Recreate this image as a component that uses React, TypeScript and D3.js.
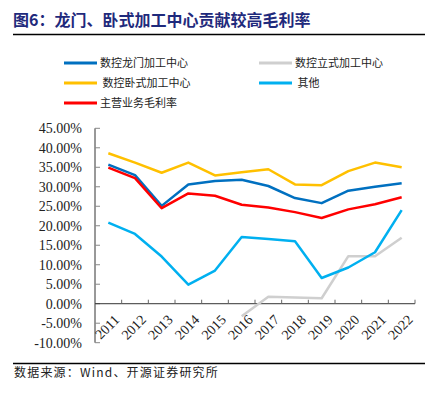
import React, { useEffect, useRef } from 'react';
import * as d3 from 'd3';

// 年份
const years = ['2011', '2012', '2013', '2014', '2015', '2016', '2017', '2018', '2019', '2020', '2021', '2022'];

// 各业务毛利率 (%)
const longmen = [35.7, 33.0, 25.1, 30.6, 31.5, 31.8, 30.2, 27.1, 25.8, 29.0, 30.0, 30.9];
const lishi = [null, null, null, null, null, -3.2, 1.8, 1.6, 1.4, 12.2, 12.2, 16.9];
const woshi = [38.6, 36.2, 33.6, 36.2, 32.9, 33.7, 34.5, 30.6, 30.4, 34.0, 36.2, 35.0];
const qita = [20.8, 17.9, 12.1, 4.9, 8.5, 17.1, 16.6, 16.0, 6.6, 9.3, 13.2, 24.0];
const zhuying = [34.9, 32.2, 24.5, 28.3, 27.7, 25.4, 24.7, 23.5, 22.0, 24.2, 25.5, 27.3];

const yTicks = [45, 40, 35, 30, 25, 20, 15, 10, 5, 0, -5, -10];

const series = [
  { name: '数控龙门加工中心', values: longmen, color: '#0070C0' },
  { name: '数控立式加工中心', values: lishi, color: '#CFCFCF' },
  { name: ' 数控卧式加工中心', values: woshi, color: '#FFC000' },
  { name: ' 其他', values: qita, color: '#00B0F0' },
  { name: '主营业务毛利率', values: zhuying, color: '#FF0000' },
];

const App = () => {
  const svgRef = useRef(null);

  useEffect(() => {
    const width = 437;
    const height = 397;
    const cjk = '"Noto Sans CJK SC", sans-serif';
    const serif = '"Liberation Serif", "Times New Roman", serif';

    const svg = d3.select(svgRef.current)
      .attr('width', width)
      .attr('height', height);
    svg.selectAll('*').remove();

    // 标题
    svg.append('text')
      .attr('x', 13)
      .attr('y', 25.5)
      .attr('font-family', cjk)
      .attr('font-weight', 'bold')
      .attr('font-size', 16)
      .attr('fill', '#1F2A7C')
      .text('图6：龙门、卧式加工中心贡献较高毛利率');

    svg.append('line')
      .attr('x1', 13).attr('x2', 425)
      .attr('y1', 34.5).attr('y2', 34.5)
      .attr('stroke', '#000').attr('stroke-width', 1.3);

    // 图例
    const legendPos = [[64, 63], [259, 63], [64, 83], [259, 83], [64, 103]];
    const lg = svg.selectAll('.legend')
      .data(series)
      .join('g')
      .attr('class', 'legend')
      .attr('transform', (d, i) => `translate(${legendPos[i][0]},${legendPos[i][1]})`);
    lg.append('line')
      .attr('x1', 0).attr('x2', 33)
      .attr('stroke', d => d.color)
      .attr('stroke-width', 3);
    lg.append('text')
      .attr('x', 36)
      .attr('dy', '0.35em')
      .attr('font-family', cjk)
      .attr('font-size', 11)
      .attr('fill', '#222')
      .style('white-space', 'pre')
      .text(d => d.name);

    // 坐标
    const x = d3.scaleBand().domain(years).range([95, 415]);
    const y = d3.scaleLinear().domain([-10, 45]).range([342.7, 128.3]);

    // y 轴
    svg.append('line')
      .attr('x1', 95).attr('x2', 95)
      .attr('y1', y(45)).attr('y2', y(-10))
      .attr('stroke', '#333');
    svg.selectAll('.ytick')
      .data(yTicks)
      .join('line')
      .attr('class', 'ytick')
      .attr('x1', 95).attr('x2', 100)
      .attr('y1', d => y(d)).attr('y2', d => y(d))
      .attr('stroke', '#888');
    svg.selectAll('.ylabel')
      .data(yTicks)
      .join('text')
      .attr('class', 'ylabel')
      .attr('x', 82)
      .attr('y', d => y(d))
      .attr('dy', '0.35em')
      .attr('text-anchor', 'end')
      .attr('font-family', serif)
      .attr('font-size', 14)
      .attr('fill', '#222')
      .text(d => `${d.toFixed(2)}%`);

    // x 轴 (0 处)
    svg.append('line')
      .attr('x1', 95).attr('x2', 415)
      .attr('y1', y(0)).attr('y2', y(0))
      .attr('stroke', '#333');
    svg.selectAll('.xtick')
      .data(years.slice(1).concat(['end']))
      .join('line')
      .attr('class', 'xtick')
      .attr('x1', (d, i) => x(years[0]) + (i + 1) * x.bandwidth())
      .attr('x2', (d, i) => x(years[0]) + (i + 1) * x.bandwidth())
      .attr('y1', y(0)).attr('y2', y(0) - 4)
      .attr('stroke', '#666');
    svg.selectAll('.xlabel')
      .data(years)
      .join('text')
      .attr('class', 'xlabel')
      .attr('transform', d => `translate(${x(d) + x.bandwidth() / 2 + 5},${y(0) + 10}) rotate(-45)`)
      .attr('text-anchor', 'end')
      .attr('dy', '0.7em')
      .attr('font-family', serif)
      .attr('font-size', 14)
      .attr('fill', '#222')
      .text(d => d);

    // 折线
    const line = d3.line()
      .defined(d => d[1] !== null)
      .x(d => x(d[0]) + x.bandwidth() / 2)
      .y(d => y(d[1]));

    svg.selectAll('.series')
      .data(series)
      .join('path')
      .attr('class', 'series')
      .attr('d', s => line(years.map((yr, i) => [yr, s.values[i]])))
      .attr('fill', 'none')
      .attr('stroke', s => s.color)
      .attr('stroke-width', 2.5)
      .attr('stroke-linejoin', 'round');

    // 底部
    svg.append('line')
      .attr('x1', 13).attr('x2', 425)
      .attr('y1', 363.5).attr('y2', 363.5)
      .attr('stroke', '#000').attr('stroke-width', 1.3);
    svg.append('text')
      .attr('x', 14)
      .attr('y', 377)
      .attr('font-family', cjk)
      .attr('font-size', 12)
      .attr('letter-spacing', 1.2)
      .attr('fill', '#222')
      .text('数据来源：Wind、开源证券研究所');
  }, []);

  return (
    <div style={{ position: 'absolute', left: 0, top: 0, background: '#fff' }}>
      <svg ref={svgRef}></svg>
    </div>
  );
};

export default App;
